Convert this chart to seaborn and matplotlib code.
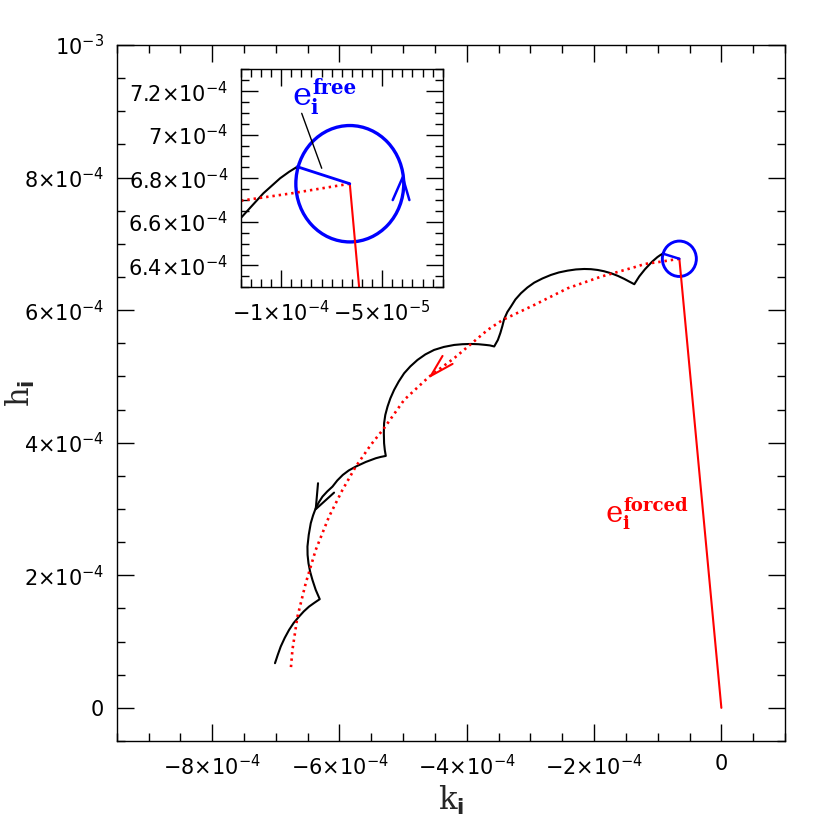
#!/usr/bin/env python3
"""Eccentricity vector path (k_i, h_i) with forced/free decomposition and a zoomed inset."""

import numpy as np
import pandas as pd
import matplotlib
matplotlib.use("Agg")
import matplotlib.pyplot as plt
from matplotlib.patches import Circle
import seaborn as sns

UNIT = 1e-4  # all values below are in units of 1e-4

# full eccentricity path (black), from start to end
track_k = [-0.92, -0.96, -1.005, -1.088, -1.20, -1.29, -1.368,
           -1.451, -1.525, -1.624, -1.734, -1.844, -1.943, -2.049, -2.154, -2.285,
           -2.415, -2.552, -2.678, -2.811, -2.940, -3.047, -3.149, -3.236, -3.307,
           -3.362, -3.412, -3.440, -3.472, -3.511, -3.569,
           -3.637, -3.700, -3.818, -3.936, -4.069, -4.198, -4.360, -4.513, -4.651,
           -4.774, -4.887, -4.984, -5.068, -5.142, -5.201, -5.245, -5.280, -5.299,
           -5.303, -5.299, -5.288, -5.272,
           -5.351, -5.429, -5.586, -5.744, -5.854, -5.948, -6.034, -6.110, -6.192,
           -6.267, -6.325, -6.373, -6.415, -6.451, -6.483, -6.503, -6.501, -6.487,
           -6.462, -6.425, -6.373, -6.310,
           -6.396, -6.478, -6.561, -6.635, -6.719, -6.792, -6.860, -6.923, -6.970, -7.013]
track_h = [6.853, 6.830, 6.800, 6.731, 6.617, 6.509, 6.391,
           6.433, 6.471, 6.516, 6.557, 6.587, 6.606, 6.618, 6.621, 6.614,
           6.596, 6.569, 6.531, 6.478, 6.415, 6.342, 6.255, 6.161, 6.053,
           5.973, 5.867, 5.762, 5.656, 5.551, 5.452,
           5.468, 5.475, 5.486, 5.490, 5.486, 5.475, 5.445, 5.400, 5.332,
           5.249, 5.151, 5.048, 4.925, 4.796, 4.668, 4.545, 4.419, 4.294,
           4.148, 3.992, 3.891, 3.801,
           3.786, 3.766, 3.710, 3.640, 3.582, 3.514, 3.431, 3.338, 3.265,
           3.187, 3.100, 3.012, 2.903, 2.786, 2.609, 2.433, 2.308, 2.182,
           2.059, 1.931, 1.780, 1.640,
           1.584, 1.528, 1.455, 1.377, 1.282, 1.176, 1.056, 0.925, 0.799, 0.674]

# forced eccentricity path (red dotted)
forced_k = [-0.66, -0.948, -1.20, -1.368, -1.892, -2.415, -2.940, -3.437, -3.673, -4.198,
            -4.591, -4.984, -5.299, -5.508, -5.744, -5.953, -6.164, -6.373, -6.530,
            -6.660, -6.739, -6.766]
forced_h = [6.775, 6.731, 6.697, 6.647, 6.505, 6.330, 6.078, 5.852, 5.701, 5.275,
            4.997, 4.646, 4.219, 3.967, 3.640, 3.288, 2.885, 2.383, 1.881,
            1.377, 0.875, 0.573]

# forced vector tip (centre of the free circle) and free vector tip
centre = (-0.66, 6.775)
free_radius = 0.267
free_tip = (-0.92, 6.853)

# direction markers (arm, tip, arm)
black_arrow_k = [-6.337, -6.373, -6.085]
black_arrow_h = [3.389, 2.997, 3.247]
red_arrow_k = [-4.381, -4.565, -4.223]
red_arrow_h = [5.309, 5.008, 5.189]
blue_arrow_k = [-0.4475, -0.398, -0.365]
blue_arrow_h = [6.70, 6.805, 6.70]

# pointer for the e_free label in the inset
pointer_k = [-0.898, -0.799]
pointer_h = [7.098, 6.846]

main_xticks = [-8, -6, -4, -2, 0]
main_xlabels = [r"$-8{\times}10^{-4}$", r"$-6{\times}10^{-4}$", r"$-4{\times}10^{-4}$",
                r"$-2{\times}10^{-4}$", "0"]
main_yticks = [0, 2, 4, 6, 8, 10]
main_ylabels = ["0", r"$2{\times}10^{-4}$", r"$4{\times}10^{-4}$", r"$6{\times}10^{-4}$",
                r"$8{\times}10^{-4}$", r"$10^{-3}$"]
inset_xticks = [-1.0, -0.5]
inset_xlabels = [r"$-1{\times}10^{-4}$", r"$-5{\times}10^{-5}$"]
inset_yticks = [6.4, 6.6, 6.8, 7.0, 7.2]
inset_ylabels = [r"$6.4{\times}10^{-4}$", r"$6.6{\times}10^{-4}$", r"$6.8{\times}10^{-4}$",
                 r"$7{\times}10^{-4}$", r"$7.2{\times}10^{-4}$"]

RED = "#ff0000"
BLUE = "#0000ff"


def scaled(values):
    return np.asarray(values, dtype=float) * UNIT


def line(ax, k, h, **kw):
    df = pd.DataFrame({"k": scaled(k), "h": scaled(h)})
    sns.lineplot(data=df, x="k", y="h", sort=False, estimator=None, legend=False, ax=ax, **kw)


def draw_vectors(ax, circle_lw):
    line(ax, track_k, track_h, color="black", lw=1.5, solid_joinstyle="round")
    line(ax, forced_k, forced_h, color=RED, lw=1.9, linestyle=(0, (0.9, 1.5)))
    line(ax, [0, centre[0]], [0, centre[1]], color=RED, lw=1.5)
    line(ax, [centre[0], free_tip[0]], [centre[1], free_tip[1]], color=BLUE, lw=circle_lw * 0.85)
    ax.add_patch(Circle((centre[0] * UNIT, centre[1] * UNIT), free_radius * UNIT,
                        fill=False, edgecolor=BLUE, lw=circle_lw))


def label_vector(ax, k, h, sup, colour, size):
    """e with bold serif sub/superscripts, anchored at the baseline-left of the e."""
    xy = (k * UNIT, h * UNIT)
    ax.annotate("e", xy, xytext=(0, 0), textcoords="offset points", color=colour,
                fontsize=size, family="DejaVu Serif", ha="left", va="baseline")
    ax.annotate(sup, xy, xytext=(0.62 * size, 0.36 * size), textcoords="offset points",
                color=colour, fontsize=0.62 * size, family="DejaVu Serif", weight="bold",
                ha="left", va="baseline")
    ax.annotate("i", xy, xytext=(0.58 * size, -0.26 * size), textcoords="offset points",
                color=colour, fontsize=0.62 * size, family="DejaVu Serif", weight="bold",
                ha="left", va="baseline")


def style_ticks(ax, xminor, yminor):
    ax.xaxis.set_minor_locator(matplotlib.ticker.MultipleLocator(xminor))
    ax.yaxis.set_minor_locator(matplotlib.ticker.MultipleLocator(yminor))
    ax.tick_params(which="both", direction="in", top=True, right=True, width=1.0,
                   labelsize=15, colors="black")
    ax.tick_params(which="major", length=12)
    ax.tick_params(which="minor", length=6)
    for sp in ax.spines.values():
        sp.set_linewidth(1.0)
        sp.set_color("black")
    ax.set_xlabel("")
    ax.set_ylabel("")


sns.set_theme(style="ticks")
plt.rcParams["font.family"] = ["DejaVu Sans"]
plt.rcParams["mathtext.fontset"] = "dejavusans"

fig = plt.figure(figsize=(8.3, 8.3), dpi=100)
ax = fig.add_axes([0.1406, 0.1072, 0.8052, 0.8386])

draw_vectors(ax, circle_lw=2.1)
line(ax, black_arrow_k, black_arrow_h, color="black", lw=1.5)
line(ax, red_arrow_k, red_arrow_h, color=RED, lw=1.5)

ax.set_xlim(-9.5 * UNIT, 1.0 * UNIT)
ax.set_ylim(-0.5 * UNIT, 10.0 * UNIT)
ax.set_xticks(scaled(main_xticks))
ax.set_xticklabels(main_xlabels)
ax.set_yticks(scaled(main_yticks))
ax.set_yticklabels(main_ylabels)
style_ticks(ax, 0.5 * UNIT, 0.5 * UNIT)
ax.tick_params(axis="x", pad=9)
ax.tick_params(axis="y", pad=9)
ax.set_xlabel(r"$\mathregular{k}_{\mathbf{i}}$", fontsize=22, family="DejaVu Serif", labelpad=4)
ax.set_ylabel(r"$\mathregular{h}_{\mathbf{i}}$", fontsize=22, family="DejaVu Serif")
ax.yaxis.set_label_coords(-0.12, 0.5)

label_vector(ax, -1.82, 2.81, "forced", RED, 21)

# zoomed inset around the forced vector tip
axin = fig.add_axes([0.290, 0.6539, 0.2434, 0.2626])
axin.set_facecolor("white")
draw_vectors(axin, circle_lw=2.4)
line(axin, blue_arrow_k, blue_arrow_h, color=BLUE, lw=1.8)
line(axin, pointer_k, pointer_h, color="black", lw=1.0)
label_vector(axin, -0.945, 7.135, "free", BLUE, 23)
axin.set_xlim(-1.2 * UNIT, -0.2 * UNIT)
axin.set_ylim(6.3 * UNIT, 7.3 * UNIT)
axin.set_xticks(scaled(inset_xticks))
axin.set_xticklabels(inset_xlabels)
axin.set_yticks(scaled(inset_yticks))
axin.set_yticklabels(inset_ylabels)
style_ticks(axin, 0.05 * UNIT, 0.05 * UNIT)
axin.tick_params(axis="both", pad=9)

fig.savefig("out.png", dpi=100, facecolor="white")
